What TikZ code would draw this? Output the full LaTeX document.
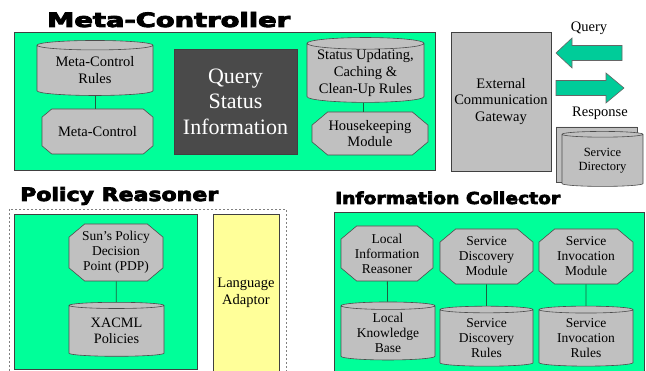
\documentclass[tikz,border=0pt]{standalone}
\usepackage{fontspec}
\setmainfont{Liberation Serif}
\newfontfamily\headfont{DejaVu Sans Bold}[FakeBold=4]
\usetikzlibrary{shapes.geometric,shapes.misc}
\definecolor{panelgreen}{HTML}{00FF99}
\definecolor{boxgray}{HTML}{C0C0C0}
\definecolor{darkbox}{HTML}{4A4A4A}
\definecolor{adaptor}{HTML}{FFFF99}
\definecolor{arrowgreen}{HTML}{00CC99}
\definecolor{linkcol}{HTML}{1F5F3F}
\begin{document}
\begin{tikzpicture}[x=1pt,y=-1pt,
    panel/.style={draw=black!75, fill=panelgreen, rectangle, line width=0.8pt, inner sep=0pt},
    plain/.style={draw=black!75, rectangle, line width=0.8pt, inner sep=0pt, align=center},
    oct/.style={chamfered rectangle, chamfered rectangle xsep=12pt, chamfered rectangle angle=50,
        draw=black!70, fill=boxgray, line width=0.6pt, inner sep=0pt, align=center},
    drum/.style={cylinder, shape border rotate=90, aspect=0.12, draw=black!70, fill=boxgray,
        line width=0.6pt, inner sep=0pt, align=center},
    link/.style={draw=linkcol, line width=0.8pt},
    bigarrow/.style={draw=black!60, fill=arrowgreen, line width=0.6pt},
    meta/.style={font=\fontsize{14.5}{17}\selectfont},
    tight/.style={font=\fontsize{13.5}{15}\selectfont}]

    \useasboundingbox (0,0) rectangle (646,371);

    \node[anchor=base west, inner sep=0pt] (t1) at (47,27)
        {\resizebox{243pt}{15pt}{\headfont Meta-Controller}};
    \node[anchor=base west, inner sep=0pt] (t2) at (20,201)
        {\resizebox{198pt}{14pt}{\headfont Policy Reasoner}};
    \node[anchor=base west, inner sep=0pt] (t3) at (335,204)
        {\resizebox{225pt}{12.5pt}{\headfont Information Collector}};

    \node[panel, minimum width=421pt, minimum height=138pt] (mc) at (224.5,101) {};
    \node[drum, meta, minimum width=116pt, minimum height=55pt] (mr) at (95,70.5)
        {Meta-Control\\Rules};
    \node[oct, meta, minimum width=111pt, minimum height=45pt] (m) at (97.5,131.5)
        {Meta-Control};
    \path[link] (mr.south) -- (mr.south |- m.north);
    \node[plain, fill=darkbox, text=white, font=\fontsize{22}{25.6}\selectfont,
        minimum width=123pt, minimum height=105pt] (q) at (235.5,101.5)
        {Query\\Status\\Information};
    \node[drum, meta, minimum width=117pt, minimum height=60pt] (sr) at (365.5,73)
        {Status Updating,\\Caching \&\\Clean-Up Rules};
    \node[oct, font=\fontsize{14.5}{16}\selectfont, minimum width=116pt, minimum height=43pt] (h) at (370,133.5)
        {Housekeeping\\Module};
    \path[link] (sr.south -| 363,0) -- (h.north -| 363,0);

    \node[plain, fill=boxgray, font=\fontsize{14.5}{16.5}\selectfont,
        minimum width=100pt, minimum height=139pt] (g) at (501,101.5)
        {External\\Communication\\Gateway};
    \filldraw[bigarrow] (622,45.5) -- (572,45.5) -- (572,38) -- (556,53) -- (572,68)
        -- (572,60.5) -- (622,60.5) -- cycle;
    \filldraw[bigarrow] (556,80.5) -- (606,80.5) -- (606,73) -- (624,88) -- (606,103)
        -- (606,95.5) -- (556,95.5) -- cycle;
    \node[meta, inner sep=0pt] (ql) at (589,28) {Query};
    \node[meta, inner sep=0pt] (rl) at (600,113) {Response};
    \node[drum, minimum width=81pt, minimum height=55pt] (d1) at (596.5,154.5) {};
    \node[drum, font=\fontsize{12.5}{13.5}\selectfont, minimum width=81pt, minimum height=55pt] (d) at (602.5,160.5)
        {Service\\Directory};

    \draw[gray, line width=0.8pt, dash pattern=on 2pt off 2pt] (9,209) rectangle (286,378);
    \node[panel, minimum width=183pt, minimum height=155pt] (pr) at (105.5,291.5) {};
    \node[oct, tight, minimum width=94pt, minimum height=57pt] (p) at (116,252.5)
        {Sun's Policy\\Decision\\Point (PDP)};
    \node[drum, font=\fontsize{14.3}{16}\selectfont, minimum width=95pt, minimum height=54pt] (x) at (116.5,331)
        {XACML\\Policies};
    \path[link] (p) -- (x);
    \node[plain, fill=adaptor, font=\fontsize{14.5}{17.5}\selectfont,
        minimum width=66pt, minimum height=158pt] (la) at (246,293)
        {Language\\Adaptor};

    \node[panel, minimum width=310pt, minimum height=165pt] (ic) at (489,294.5) {};
    \node[oct, tight, minimum width=92pt, minimum height=55pt] (lr) at (387,253.5)
        {Local\\Information\\Reasoner};
    \node[oct, tight, minimum width=93pt, minimum height=55pt] (sd) at (486.5,256.5)
        {Service\\Discovery\\Module};
    \node[oct, tight, minimum width=94pt, minimum height=55pt] (si) at (586,256.5)
        {Service\\Invocation\\Module};
    \node[drum, tight, minimum width=94pt, minimum height=58pt] (lk) at (388,333)
        {Local\\Knowledge\\Base};
    \node[drum, tight, minimum width=93pt, minimum height=60pt] (sdr) at (486.5,338)
        {Service\\Discovery\\Rules};
    \node[drum, tight, minimum width=94pt, minimum height=60pt] (sir) at (586,338)
        {Service\\Invocation\\Rules};
    \path[link] (lr) -- (lk);
    \path[link] (sd) -- (sdr);
    \path[link] (si) -- (sir);
\end{tikzpicture}
\end{document}
